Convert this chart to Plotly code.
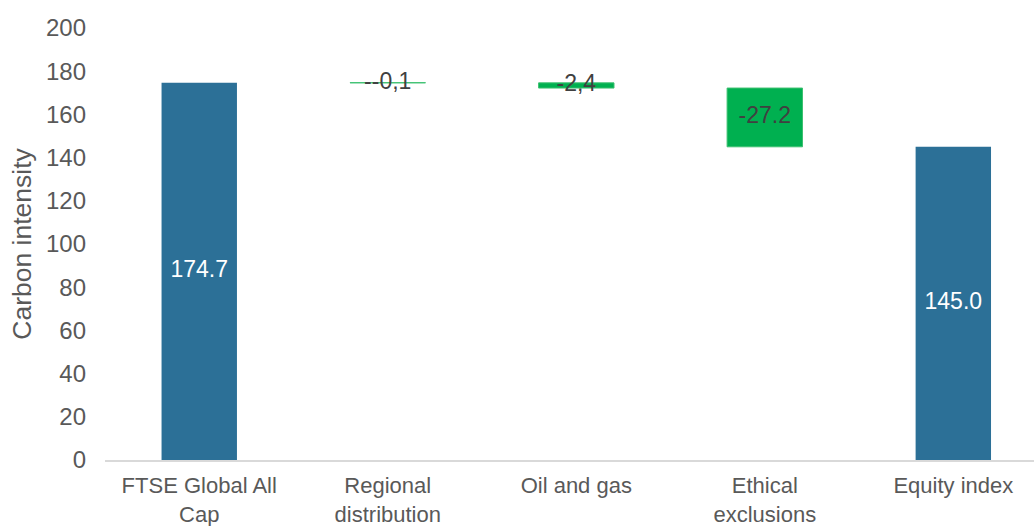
import plotly.graph_objects as go

categories = ["FTSE Global All<br>Cap", "Regional<br>distribution", "Oil and gas", "Ethical<br>exclusions", "Equity index"]
values = [174.7, -0.1, -2.4, -27.2, 145.0]
measures = ["absolute", "relative", "relative", "relative", "total"]
labels = ["174.7", "--0,1", "-2,4", "-27.2", "145.0"]
label_colors = ["white", "#404040", "#404040", "#404040", "white"]

# compute label positions (middle of each bar) from the data
mids = []
run = 0.0
for v, m in zip(values, measures):
    if m == "absolute":
        run = v
        mids.append(v / 2)
    elif m == "total":
        mids.append(run / 2)
    else:
        mids.append(run + v / 2)
        run += v

FONT = "Liberation Sans, Arial, sans-serif"

fig = go.Figure()
fig.add_trace(go.Waterfall(
    x=list(range(len(categories))),
    y=values,
    measure=measures,
    width=0.4,
    totals=dict(marker=dict(color="#2C7097")),
    decreasing=dict(marker=dict(color="#00B050", line=dict(color="#3CC070", width=1))),
    increasing=dict(marker=dict(color="#00B050")),
    connector=dict(visible=False),
    showlegend=False,
    hoverinfo="skip",
))
fig.add_trace(go.Scatter(
    x=list(range(len(categories))),
    y=mids,
    mode="text",
    text=labels,
    textposition="middle center",
    textfont=dict(family=FONT, size=23, color=label_colors),
    showlegend=False,
    hoverinfo="skip",
))

fig.update_layout(
    width=1034, height=526,
    margin=dict(l=105, r=0, t=28, b=66),
    paper_bgcolor="white", plot_bgcolor="white",
    font=dict(family=FONT, size=23, color="#595959"),
    xaxis=dict(
        range=[-0.5, 4.428],
        tickmode="array",
        tickvals=list(range(len(categories))),
        ticktext=categories,
        showgrid=False, zeroline=False,
        showline=True, linecolor="#D9D9D9", linewidth=1.5,
        ticks="", ticklabelstandoff=5,
        tickfont=dict(size=22, color="#595959"),
        automargin=False,
    ),
    yaxis=dict(
        range=[0, 200], dtick=20,
        showgrid=False, zeroline=False, showline=False,
        ticks="", ticklabelstandoff=18,
        tickfont=dict(size=24, color="#595959"),
        title=dict(text="Carbon intensity", font=dict(size=26.5, color="#595959"), standoff=6),
        automargin=False,
    ),
)

fig.write_html("out.html")
